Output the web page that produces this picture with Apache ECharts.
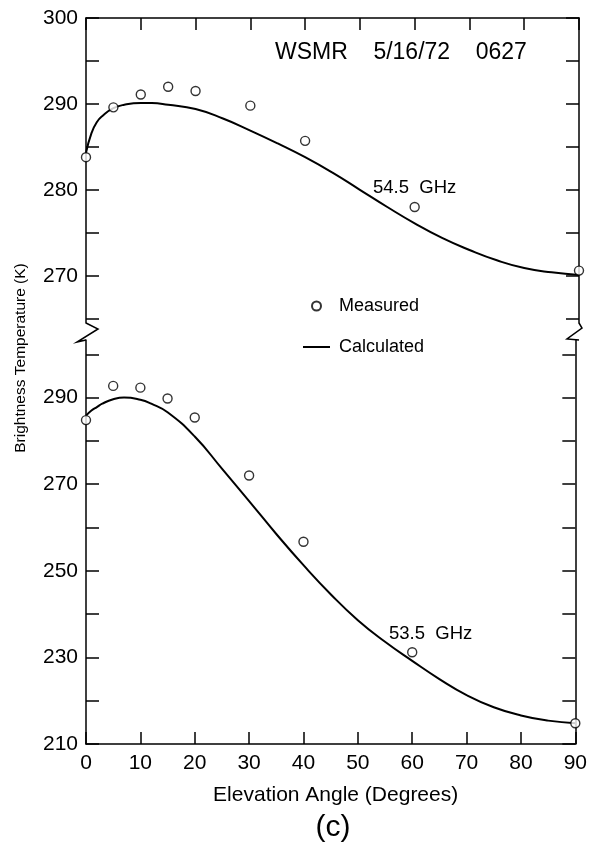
<!DOCTYPE html>
<html>
<head>
<meta charset="utf-8">
<script src="https://cdn.jsdelivr.net/npm/echarts@6/dist/echarts.min.js"></script>
<style>
  html, body { margin: 0; padding: 0; background: #fff; }
  #chart { width: 590px; height: 846px; }
</style>
</head>
<body>
<div id="chart"></div>
<script>
// Elevation angles of the radiometer scans (degrees)
const measuredAngles = [0, 5, 10, 15, 20, 30, 40, 60, 90];
// Measured brightness temperatures (K)
const measured545 = [283.8, 289.6, 291.1, 292.0, 291.5, 289.8, 285.7, 278.0, 270.6];
const measured535 = [284.8, 292.7, 292.3, 289.8, 285.4, 272.0, 256.7, 231.2, 214.8];

// Calculated profiles (K)
const calcAngles = [0, 1, 2, 3, 5, 7, 10, 12, 15, 20, 25, 30, 35, 40, 45, 50, 55, 60, 65, 70, 75, 80, 85, 90];
const calc545 = [284.3, 286.6, 287.9, 288.6, 289.5, 289.9, 290.1, 290.1, 289.9, 289.4, 288.3, 286.9,
                 285.4, 283.8, 282.0, 280.0, 278.0, 276.1, 274.4, 273.0, 271.8, 270.9, 270.4, 270.1];
const calc535 = [285.8, 287.0, 287.8, 288.6, 289.6, 290.0, 289.5, 288.6, 286.6, 281.0, 273.6, 266.1,
                 258.5, 251.3, 244.6, 238.6, 233.6, 229.2, 225.0, 221.3, 218.5, 216.6, 215.4, 214.8];

// Axis ticks and labels
const xTickLabels = [0, 10, 20, 30, 40, 50, 60, 70, 80, 90];
const upperTicks = [265, 270, 275, 280, 285, 290, 295, 300];
const upperLabels = [270, 280, 290, 300];
const lowerTicks = [210, 220, 230, 240, 250, 260, 270, 280, 290, 300];
const lowerLabels = [210, 230, 250, 270, 290];

const pairs = (xs, ys) => xs.map((x, i) => [x, ys[i]]);

const INK = '#000';
const FONT = "'Liberation Sans', Arial, sans-serif";

// Layout of the two panels (pixels)
const L = 86, R = 11;
const upper = { top: 18, height: 305 };
const lower = { top: 340, height: 404 };

const axisLine = { show: true, lineStyle: { color: INK, width: 1.5 } };

function yAxisFor(gridIndex, pos, min, max, ticks, labels) {
  return {
    type: 'value', gridIndex, position: pos, min, max,
    axisLine,
    splitLine: { show: false },
    axisTick: { show: true, inside: true, length: 13, customValues: ticks,
                lineStyle: { color: INK, width: 1.5 } },
    axisLabel: pos === 'left'
      ? { show: true, customValues: labels, margin: 8, color: INK, fontSize: 21, fontFamily: FONT }
      : { show: false }
  };
}

const chart = echarts.init(document.getElementById('chart'), null, { renderer: 'canvas' });

const upperBottom = upper.top + upper.height;
const xRight = 590 - R;

chart.setOption({
  backgroundColor: '#fff',
  animation: false,
  grid: [
    { left: L, right: R, top: upper.top, height: upper.height, show: false },
    { left: L, right: R, top: lower.top, height: lower.height, show: false }
  ],
  xAxis: [
    {
      type: 'value', gridIndex: 0, position: 'top', min: 0, max: 90, interval: 10,
      axisLine, splitLine: { show: false },
      axisTick: { show: true, inside: true, length: 12, lineStyle: { color: INK, width: 1.5 } },
      axisLabel: { show: false }
    },
    {
      type: 'value', gridIndex: 1, position: 'bottom', min: 0, max: 90, interval: 10,
      axisLine, splitLine: { show: false },
      axisTick: { show: true, inside: true, length: 12, lineStyle: { color: INK, width: 1.5 } },
      axisLabel: { show: true, customValues: xTickLabels, margin: 9, color: INK, fontSize: 21, fontFamily: FONT },
      name: 'Elevation Angle (Degrees)', nameLocation: 'middle', nameGap: 41,
      nameTextStyle: { color: INK, fontSize: 21, fontFamily: FONT, padding: [0, 0, 0, 10] }
    }
  ],
  yAxis: [
    yAxisFor(0, 'left', 264.5, 300, upperTicks, upperLabels),
    yAxisFor(0, 'right', 264.5, 300, upperTicks, upperLabels),
    yAxisFor(1, 'left', 210, 303.3, lowerTicks, lowerLabels),
    yAxisFor(1, 'right', 210, 303.3, lowerTicks, lowerLabels)
  ],
  legend: {
    data: [
      { name: 'Measured' },
      { name: 'Calculated', icon: 'path://M0,0h27v2h-27z' }
    ],
    orient: 'vertical', left: 303, top: 297, padding: 0,
    itemWidth: 27, itemHeight: 9, itemGap: 23,
    selectedMode: false,
    textStyle: { color: INK, fontSize: 18, fontFamily: FONT, padding: [0, 0, 0, 4] }
  },
  series: [
    {
      name: 'Calculated', type: 'line', xAxisIndex: 0, yAxisIndex: 0,
      data: pairs(calcAngles, calc545), smooth: 0.5, symbol: 'none',
      lineStyle: { color: INK, width: 2 }, itemStyle: { color: INK }, z: 2
    },
    {
      name: 'Calculated', type: 'line', xAxisIndex: 1, yAxisIndex: 2,
      data: pairs(calcAngles, calc535), smooth: 0.5, symbol: 'none',
      lineStyle: { color: INK, width: 2 }, itemStyle: { color: INK }, z: 2
    },
    {
      name: 'Measured', type: 'scatter', xAxisIndex: 0, yAxisIndex: 0,
      data: pairs(measuredAngles, measured545), symbol: 'circle', symbolSize: 9, clip: false,
      itemStyle: { color: '#fff', borderColor: INK, borderWidth: 1.4 }, z: 5
    },
    {
      name: 'Measured', type: 'scatter', xAxisIndex: 1, yAxisIndex: 2,
      data: pairs(measuredAngles, measured535), symbol: 'circle', symbolSize: 9, clip: false,
      itemStyle: { color: '#fff', borderColor: INK, borderWidth: 1.4 }, z: 5
    }
  ],
  graphic: [
    // axis break marks joining the two panels
    {
      type: 'polyline', z: 10,
      shape: { points: [[L, upperBottom], [L + 12, upperBottom + 6], [L - 9, upperBottom + 19], [L, lower.top]] },
      style: { stroke: INK, lineWidth: 1.5, fill: null }
    },
    {
      type: 'polyline', z: 10,
      shape: { points: [[xRight, upperBottom], [xRight + 3, upperBottom + 5], [xRight - 12, upperBottom + 16], [xRight, lower.top]] },
      style: { stroke: INK, lineWidth: 1.5, fill: null }
    },
    {
      type: 'text', x: 275, y: 53,
      style: { text: 'WSMR    5/16/72    0627', fill: INK, font: "23px 'Liberation Sans', Arial, sans-serif",
               textAlign: 'left', textVerticalAlign: 'middle' }
    },
    {
      type: 'text', x: 373, y: 188,
      style: { text: '54.5  GHz', fill: INK, font: "18.5px 'Liberation Sans', Arial, sans-serif",
               textAlign: 'left', textVerticalAlign: 'middle' }
    },
    {
      type: 'text', x: 389, y: 634,
      style: { text: '53.5  GHz', fill: INK, font: "18.5px 'Liberation Sans', Arial, sans-serif",
               textAlign: 'left', textVerticalAlign: 'middle' }
    },
    {
      type: 'text', x: 21, y: 358, rotation: Math.PI / 2,
      style: { text: 'Brightness Temperature (K)', fill: INK,
               font: "15.5px 'Liberation Sans', Arial, sans-serif",
               textAlign: 'center', textVerticalAlign: 'middle' }
    },
    {
      type: 'text', x: 333, y: 828,
      style: { text: '(c)', fill: INK, font: "30px 'Liberation Sans', Arial, sans-serif",
               textAlign: 'center', textVerticalAlign: 'middle' }
    }
  ]
});
</script>
</body>
</html>
